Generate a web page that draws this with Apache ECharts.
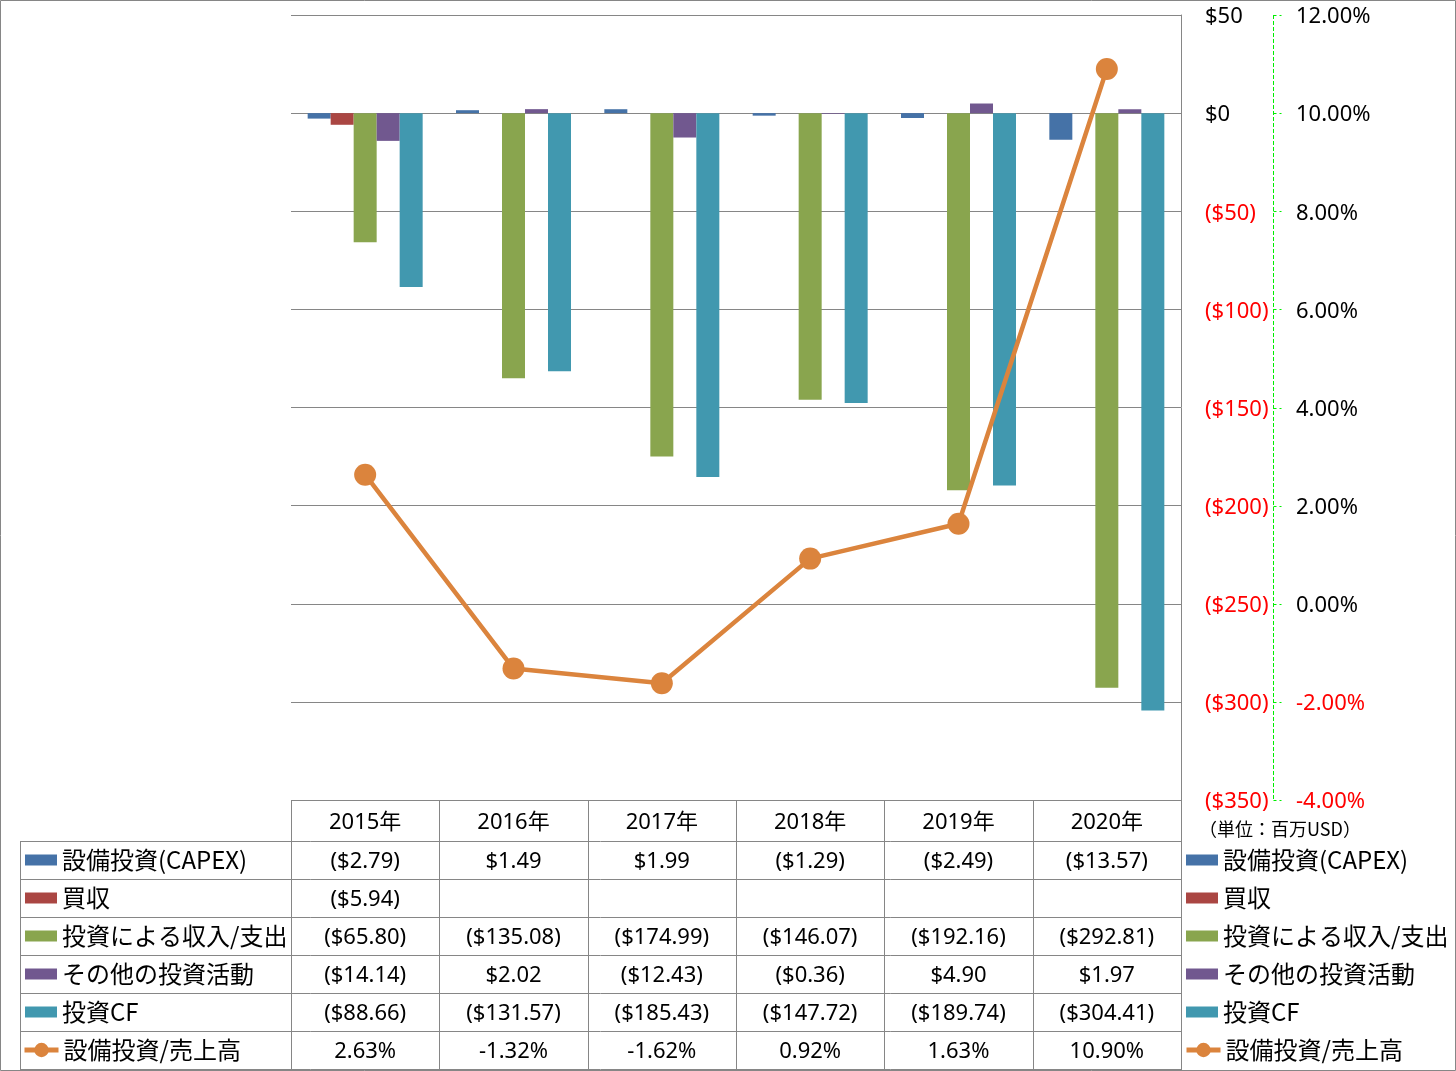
<!DOCTYPE html>
<html>
<head>
<meta charset="utf-8">
<script src="https://cdn.jsdelivr.net/npm/echarts@6/dist/echarts.min.js"></script>
<style>
html,body{margin:0;padding:0;background:#fff;}
#c{width:1456px;height:1071px;}
</style>
</head>
<body>
<div id="c"></div>
<script>
// ---- data ----
var categories = ['2015年', '2016年', '2017年', '2018年', '2019年', '2020年'];
var seriesNames = ['設備投資(CAPEX)', '買収', '投資による収入/支出', 'その他の投資活動', '投資CF'];
var capex = [-2.79, 1.49, 1.99, -1.29, -2.49, -13.57];
var acquisitions = [-5.94, null, null, null, null, null];
var investIncome = [-65.80, -135.08, -174.99, -146.07, -192.16, -292.81];
var otherInvest = [-14.14, 2.02, -12.43, -0.36, 4.90, 1.97];
var investCF = [-88.66, -131.57, -185.43, -147.72, -189.74, -304.41];
var lineName = '設備投資/売上高';
var capexRatio = [2.63, -1.32, -1.62, 0.92, 1.63, 10.90];
var pctTicks = [-4, -2, 0, 2, 4, 6, 8, 10, 12];
var unitLabel = '（単位：百万USD）';

var barData = [capex, acquisitions, investIncome, otherInvest, investCF];
var colors = ['#4572A7', '#AA4643', '#89A54E', '#71588F', '#4198AF'];
var lineColor = '#DB843D';
var gridColor = '#868686';
var axisGreen = '#00EE00';
var NUM_FONT = '"Noto Sans", "Noto Sans CJK JP", sans-serif';
var JP_FONT = '"Noto Sans CJK JP", "Noto Sans", sans-serif';

function money(v) {
  if (v === null || v === undefined) return '';
  return v < 0 ? '($' + Math.abs(v).toFixed(2) + ')' : '$' + v.toFixed(2);
}
function pct(v) { return v.toFixed(2) + '%'; }

var chart = echarts.init(document.getElementById('c'), null, {renderer: 'canvas'});

var GL = 291, GR = 1181, GT = 15, GB = 800;
var PCT_OFFSET = 92;
var series = [];
for (var i = 0; i < seriesNames.length; i++) {
  series.push({
    name: seriesNames[i], type: 'bar', data: barData[i], yAxisIndex: 0,
    barWidth: 23, barGap: '0%',
    itemStyle: {color: colors[i]},
    emphasis: {disabled: true}
  });
}
series.push({
  name: lineName, type: 'line', data: capexRatio, yAxisIndex: 1,
  symbol: 'circle', symbolSize: 22, z: 5,
  lineStyle: {color: lineColor, width: 4.5},
  itemStyle: {color: lineColor},
  emphasis: {disabled: true}
});

var barLegendData = seriesNames.map(function (n) { return {name: n, icon: 'rect'}; });
var LEG_TEXT = {fontFamily: JP_FONT, fontSize: 24, color: '#000', lineHeight: 28};

function mkBarLegend(left) {
  return {
    orient: 'vertical', left: left, top: 846, padding: 0,
    itemWidth: 32, itemHeight: 11, itemGap: 10,
    selectedMode: false,
    data: barLegendData,
    textStyle: LEG_TEXT
  };
}
function mkLineLegend(left) {
  return {
    orient: 'vertical', left: left, top: 1036, padding: 0,
    itemWidth: 34, itemHeight: 18, itemGap: 10,
    selectedMode: false,
    data: [{name: lineName}],
    lineStyle: {width: 5},
    textStyle: LEG_TEXT
  };
}

chart.setOption({
  animation: false,
  backgroundColor: '#fff',
  grid: {left: GL, right: 1456 - GR, top: GT, bottom: 1071 - GB, containLabel: false},
  legend: [mkBarLegend(25), mkLineLegend(22), mkBarLegend(1186), mkLineLegend(1184)],
  xAxis: {
    type: 'category', data: categories,
    axisLine: {show: false}, axisTick: {show: false}, axisLabel: {show: false},
    splitLine: {show: false}
  },
  yAxis: [
    {
      type: 'value', position: 'right', min: -350, max: 50, interval: 50,
      axisLine: {show: true, lineStyle: {color: gridColor, width: 1}},
      axisTick: {show: false},
      splitLine: {show: true, lineStyle: {color: gridColor, width: 1}},
      axisLabel: {
        margin: 24, align: 'left', fontFamily: NUM_FONT, fontSize: 22, color: '#000',
        formatter: function (v) {
          return v < 0 ? '{n|($' + Math.abs(v) + ')}' : '{p|$' + v + '}';
        },
        rich: {
          n: {color: '#FF0000', fontFamily: NUM_FONT, fontSize: 22, padding: [4, 0, 0, 0]},
          p: {color: '#000', fontFamily: NUM_FONT, fontSize: 22, padding: [4, 0, 0, 0]}
        }
      }
    },
    {
      type: 'value', position: 'right', offset: PCT_OFFSET, min: -4, max: 12, interval: 2,
      axisLine: {show: false},
      axisTick: {show: false},
      splitLine: {show: false},
      axisLabel: {
        margin: 23, align: 'left',
        formatter: function (v) {
          return v < 0 ? '{n|' + v.toFixed(2) + '%}' : '{p|' + v.toFixed(2) + '%}';
        },
        rich: {
          n: {color: '#FF0000', fontFamily: NUM_FONT, fontSize: 22, padding: [4, 0, 0, 0]},
          p: {color: '#000', fontFamily: NUM_FONT, fontSize: 22, padding: [4, 0, 0, 0]}
        }
      }
    }
  ],
  series: series
});

var g = [];
// ---- green dashed secondary axis line + ticks (positions from the axis scale) ----
var ax = GR + PCT_OFFSET + 0.5;
var yTop = chart.convertToPixel({yAxisIndex: 1}, 12);
var yBot = chart.convertToPixel({yAxisIndex: 1}, -4);
g.push({type: 'line', silent: true, z: 10, shape: {x1: ax, y1: yTop, x2: ax, y2: yBot},
  style: {stroke: axisGreen, lineWidth: 1, lineDash: [4, 2]}});
pctTicks.forEach(function (t) {
  var ty = Math.round(chart.convertToPixel({yAxisIndex: 1}, t)) + 0.5;
  g.push({type: 'line', silent: true, z: 10, shape: {x1: ax, y1: ty, x2: ax + 8, y2: ty},
    style: {stroke: axisGreen, lineWidth: 1, lineDash: [3, 3]}});
});

// ---- data table below the plot ----
var rowTops = [800, 841, 879, 917, 955, 993, 1031, 1069];
function hline(x1, x2, y) {
  g.push({type: 'line', silent: true, shape: {x1: x1, y1: y + 0.5, x2: x2, y2: y + 0.5}, style: {stroke: gridColor, lineWidth: 1}});
}
function vline(x, y1, y2) {
  g.push({type: 'line', silent: true, shape: {x1: x + 0.5, y1: y1, x2: x + 0.5, y2: y2}, style: {stroke: gridColor, lineWidth: 1}});
}
// outer border
g.push({type: 'rect', silent: true, shape: {x: 0.5, y: 0.5, width: 1455, height: 1070}, style: {fill: 'none', stroke: gridColor, lineWidth: 1}});
hline(GL, GR, rowTops[0]);
for (var r = 1; r < rowTops.length; r++) hline(20, GR, rowTops[r]);
vline(20, rowTops[1], rowTops[7] + 1);
var band = (GR - GL) / categories.length;
for (var c = 0; c <= categories.length; c++) {
  var x = Math.round(GL + c * band);
  vline(x, rowTops[0], rowTops[7] + 1);
}
vline(GR, GB, rowTops[7] + 1);

var tableRows = [capex, acquisitions, investIncome, otherInvest, investCF];
var TF = '22px ' + NUM_FONT;
for (var k = 0; k < categories.length; k++) {
  var cx = chart.convertToPixel({xAxisIndex: 0}, categories[k]);
  g.push({type: 'text', silent: true, x: cx, y: (rowTops[0] + rowTops[1]) / 2 + 2,
    style: {text: categories[k], fill: '#000', font: TF, align: 'center', verticalAlign: 'middle'}});
  for (var rr = 0; rr < tableRows.length; rr++) {
    g.push({type: 'text', silent: true, x: cx, y: (rowTops[rr + 1] + rowTops[rr + 2]) / 2 + 2,
      style: {text: money(tableRows[rr][k]), fill: '#000', font: TF, align: 'center', verticalAlign: 'middle'}});
  }
  g.push({type: 'text', silent: true, x: cx, y: (rowTops[6] + rowTops[7]) / 2 + 2,
    style: {text: pct(capexRatio[k]), fill: '#000', font: TF, align: 'center', verticalAlign: 'middle'}});
}
g.push({type: 'text', silent: true, x: 1199, y: 829,
  style: {text: unitLabel, fill: '#000', font: '18px ' + JP_FONT, align: 'left', verticalAlign: 'middle'}});

chart.setOption({graphic: g});
</script>
</body>
</html>
